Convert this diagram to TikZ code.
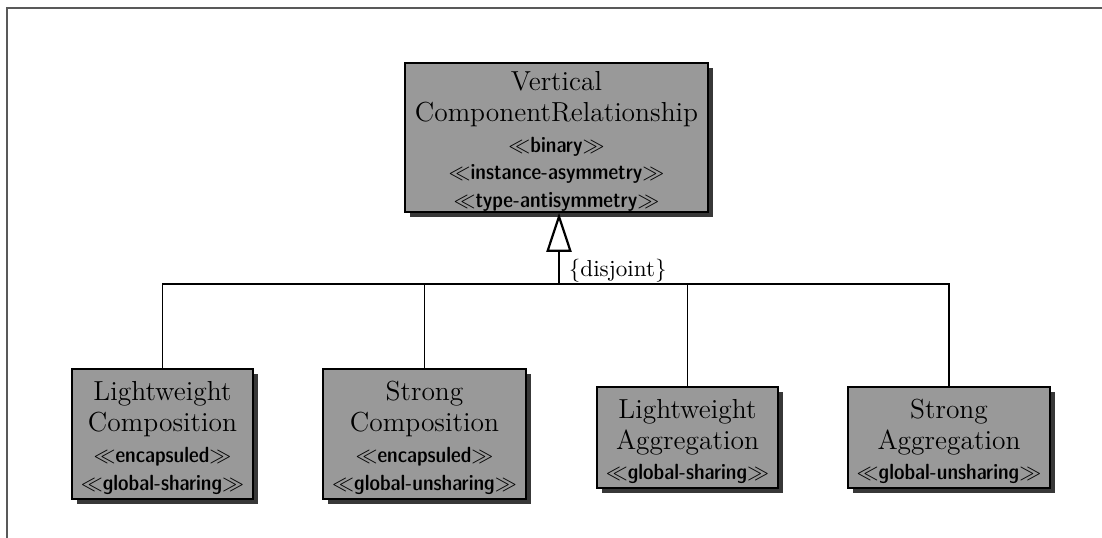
\documentclass[tikz,border=0pt]{standalone}
\usetikzlibrary{arrows.meta,shadows}
\newcommand{\stereo}[1]{{\fontsize{10}{12}\sffamily\fontseries{sbc}\selectfont$\ll$#1$\gg$}}
\newcommand{\topstrut}{\rule{0pt}{12.4pt}}
\tikzset{
  classbox/.style={draw=black, line width=0.85pt, fill=black!40, align=center,
    font=\fontsize{12.5}{14}\selectfont, inner sep=2pt,
    drop shadow={shadow xshift=2.3pt, shadow yshift=-2.3pt, fill=black!78, opacity=1}},
  conn/.style={line width=0.8pt},
  gen/.style={line width=1.2pt, -{Triangle[open, length=17.7pt, width=11.4pt, fill=white, line width=1pt]}},
  frameline/.style={draw=black!65, line width=0.9pt}
}
\begin{document}
\begin{tikzpicture}[x=0.45455pt, y=-0.45455pt]
\useasboundingbox (0,0) rectangle (1102,538);
\draw[frameline] (7,538) -- (7,8) -- (1102,8);

\node[classbox, inner ysep=0pt, minimum width=137.8pt, minimum height=67.7pt] (top) at (556.5,137.5)
  {\topstrut Vertical\\ComponentRelationship\\\stereo{binary}\\[-1.5pt]\stereo{instance-asymmetry}\\[-1.5pt]\stereo{type-antisymmetry}};

\node[classbox, minimum width=82.3pt, minimum height=55.5pt] (b1) at (162.5,434)
  {\topstrut Lightweight\\Composition\\\stereo{encapsuled}\\[-1pt]\stereo{global-sharing}};
\node[classbox, minimum width=92.3pt, minimum height=55.5pt] (b2) at (424.5,434)
  {\topstrut Strong\\Composition\\\stereo{encapsuled}\\[-1pt]\stereo{global-unsharing}};
\node[classbox, minimum width=82.3pt, minimum height=45.9pt] (b3) at (687.5,437.5)
  {\topstrut Lightweight\\Aggregation\\\stereo{global-sharing}};
\node[classbox, minimum width=91.8pt, minimum height=45.9pt] (b4) at (949,437.5)
  {\topstrut Strong\\Aggregation\\\stereo{global-unsharing}};

\coordinate (j) at (559,284);
\draw[conn] (b1.north) |- (j) -| (b4.north);
\draw[conn] (b2.north) -- (b2.north |- j);
\draw[conn] (b3.north) -- (b3.north |- j);
\draw[gen] (j) -- (j |- top.south);
\node[anchor=base west, inner sep=0pt, font=\fontsize{10.5}{12}\selectfont] (dj) at ([xshift=4.3pt, yshift=3.2pt]j) {\{disjoint\}};
\end{tikzpicture}
\end{document}
